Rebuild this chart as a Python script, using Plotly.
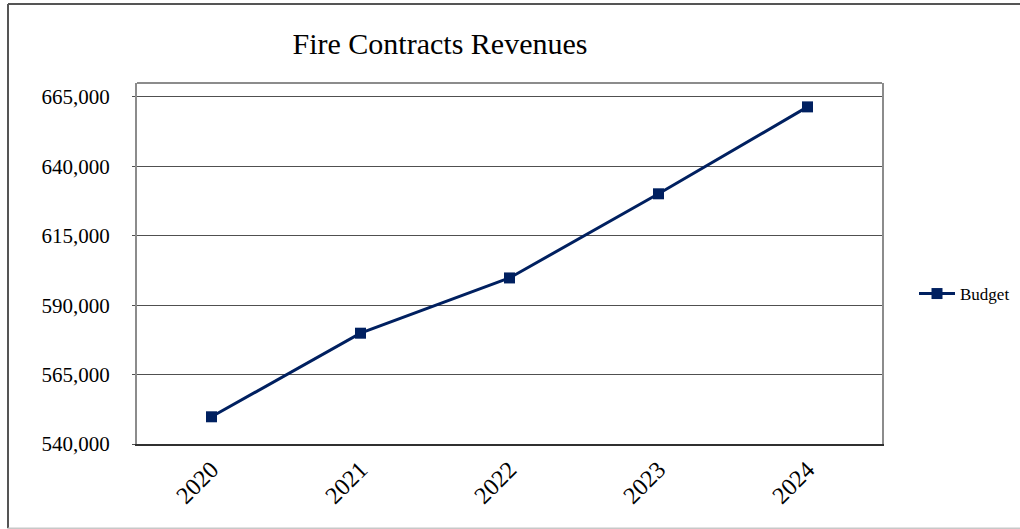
import plotly.graph_objects as go

# Fire contract revenue budget by year
years = ["2020", "2021", "2022", "2023", "2024"]
budget = [549800, 579900, 599800, 630100, 661400]
y_ticks = [540000, 565000, 590000, 615000, 640000, 665000]
y_tick_labels = ["540,000", "565,000", "590,000", "615,000", "640,000", "665,000"]

navy = "#002060"
serif = "Liberation Serif"

fig = go.Figure()
fig.add_trace(go.Scatter(
    x=years, y=budget, name="Budget", mode="lines+markers",
    line=dict(color=navy, width=3),
    marker=dict(symbol="square", size=11, color=navy),
))

# plot area box in pixels: left 137, right 882, top 83, bottom 444
L, R, T, B = 137, 882, 83.3, 443.8
W, H = 1020, 529
pw, ph = R - L, B - T


def px(x):
    return (x - L) / pw


def py(y):
    return (B - y) / ph


shapes = [
    # top edge of the plot frame
    dict(type="line", xref="paper", yref="paper", x0=0, x1=1, y0=1, y1=1,
         line=dict(color="#8c8c8c", width=2)),
    # outer chart border
    dict(type="line", xref="paper", yref="paper", x0=px(8), x1=px(1030),
         y0=py(4.5), y1=py(4.5), line=dict(color="#555555", width=2)),
    dict(type="line", xref="paper", yref="paper", x0=px(8), x1=px(8),
         y0=py(4.5), y1=py(528), line=dict(color="#555555", width=2)),
    dict(type="line", xref="paper", yref="paper", x0=px(8), x1=px(1030),
         y0=py(528), y1=py(528), line=dict(color="#c8c8c8", width=1.5)),
]

fig.update_layout(
    width=W, height=H,
    margin=dict(l=L, r=W - R, t=T, b=H - B, autoexpand=False),
    paper_bgcolor="white", plot_bgcolor="white",
    font=dict(family=serif, color="black"),
    title=dict(text="Fire Contracts Revenues", font=dict(size=30, family=serif),
               xref="container", yref="container", x=440 / W, y=1 - 43 / H,
               xanchor="center", yanchor="middle"),
    showlegend=True,
    legend=dict(x=px(914), y=py(294), xanchor="left", yanchor="middle",
                itemwidth=36,
                font=dict(size=17, family=serif), bgcolor="rgba(0,0,0,0)"),
    xaxis=dict(type="category", range=[-0.5, 4.5], tickangle=-45,
               tickfont=dict(size=24, family=serif),
               showline=True, linecolor="#303030", linewidth=2,
               showgrid=False, ticks="", ticklen=0),
    yaxis=dict(range=[540000, 670000], tickvals=y_ticks, ticktext=y_tick_labels,
               tickfont=dict(size=21, family=serif),
               showgrid=True, gridcolor="#505050", gridwidth=1,
               showline=True, linecolor="#8c8c8c", linewidth=2, mirror=True,
               ticks="outside", ticklen=3, tickcolor="#505050",
               ticklabelstandoff=18,
               zeroline=False),
    shapes=shapes,
)

fig.write_html("out.html")
